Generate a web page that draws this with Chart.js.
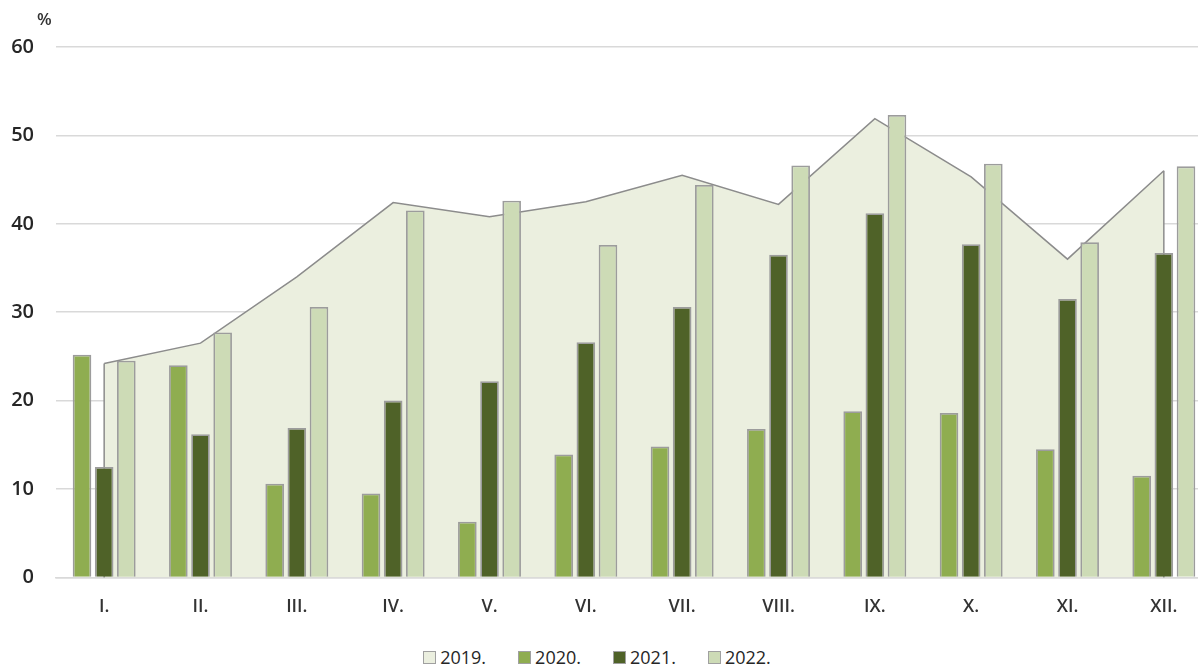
<!DOCTYPE html>
<html lang="hu">
<head>
    <meta charset="UTF-8">
    <title>Havi arány 2019-2022</title>
    <style>
        body { margin: 0; overflow: hidden; background: #fff; font-family: "Open Sans", sans-serif; }
        .wrap { position: relative; width: 1212px; height: 640px; }
        .unit { position: absolute; left: 37px; top: 7px; font-size: 17px; font-weight: 600; color: #333; }
        .legend { position: absolute; top: 645px; left: 0; width: 1194px; display: flex; justify-content: center; gap: 32px; font-size: 18px; color: #262626; }
        .legend span.item { display: flex; align-items: center; }
        .legend span.box { width: 13px; height: 13px; border: 1.5px solid #a0a0a0; margin-right: 4px; box-sizing: border-box; }
    </style>
</head>
<body>
    <div class="wrap">
        <canvas id="chart"></canvas>
        <div class="unit">%</div>
    </div>
    <div class="legend" id="legend"></div>

    <script src="https://cdn.jsdelivr.net/npm/chart.js"></script>
    <script>
        // adatok
        var months = ['I.', 'II.', 'III.', 'IV.', 'V.', 'VI.', 'VII.', 'VIII.', 'IX.', 'X.', 'XI.', 'XII.'];
        var years = ['2019.', '2020.', '2021.', '2022.'];
        var colors = ['#ebefdf', '#8fad50', '#4f6228', '#cddbb6'];
        var yTicks = [0, 10, 20, 30, 40, 50, 60];

        var v2019 = [24.2, 26.5, 34.0, 42.4, 40.8, 42.5, 45.5, 42.2, 51.9, 45.3, 36.0, 46.0];
        var v2020 = [25.2, 24.0, 10.6, 9.5, 6.3, 13.9, 14.8, 16.8, 18.8, 18.6, 14.5, 11.5];
        var v2021 = [12.5, 16.2, 16.9, 20.0, 22.2, 26.6, 30.6, 36.5, 41.2, 37.7, 31.5, 36.7];
        var v2022 = [24.5, 27.7, 30.6, 41.5, 42.6, 37.6, 44.4, 46.6, 52.3, 46.8, 37.9, 46.5];

        // az area széleit le kell zárni függőlegesen
        var areaEdges = {
            id: 'areaEdges',
            afterDatasetDraw: function(chart, args) {
                if (args.index !== 0) return;
                var pts = args.meta.data;
                var base = chart.scales.y.getPixelForValue(0);
                var ctx = chart.ctx;
                ctx.save();
                ctx.strokeStyle = '#8c8c8c';
                ctx.lineWidth = 1.5;
                ctx.beginPath();
                ctx.moveTo(pts[0].x, pts[0].y);
                ctx.lineTo(pts[0].x, base);
                ctx.moveTo(pts[pts.length - 1].x, pts[pts.length - 1].y);
                ctx.lineTo(pts[pts.length - 1].x, base);
                ctx.stroke();
                ctx.restore();
            }
        };

        function barSet(i, data) {
            return {
                label: years[i],
                data: data,
                backgroundColor: colors[i],
                borderColor: '#9c9c9c',
                borderWidth: 1.8,
                categoryPercentage: 0.69,
                barPercentage: 0.84,
                order: 1
            };
        }

        var ctx = document.getElementById('chart').getContext('2d');
        var chart = new Chart(ctx, {
            type: 'bar',
            data: {
                labels: months,
                datasets: [
                    {
                        type: 'line',
                        label: years[0],
                        data: v2019,
                        backgroundColor: colors[0],
                        borderColor: '#8c8c8c',
                        borderWidth: 1.5,
                        fill: 'origin',
                        tension: 0,
                        pointRadius: 0,
                        order: 2
                    },
                    barSet(1, v2020),
                    barSet(2, v2021),
                    barSet(3, v2022)
                ]
            },
            options: {
                responsive: true,
                maintainAspectRatio: false,
                animation: false,
                layout: { padding: { top: 47, left: 8, right: 0, bottom: 11 } },
                plugins: {
                    legend: { display: false },
                    tooltip: { enabled: false }
                },
                scales: {
                    x: {
                        offset: true,
                        grid: { display: false },
                        border: { color: '#d9d9d9', width: 1.5 },
                        ticks: { color: '#333', font: { family: 'Open Sans', size: 18, weight: '600' }, padding: 11 }
                    },
                    y: {
                        min: 0,
                        max: 60,
                        afterBuildTicks: function(axis) {
                            axis.ticks = yTicks.map(function(v) { return { value: v }; });
                        },
                        afterFit: function(axis) { axis.width = 48; },
                        grid: { color: '#d9d9d9', lineWidth: 1.5, drawTicks: false },
                        border: { display: false },
                        ticks: { color: '#262626', font: { family: 'Open Sans', size: 20, weight: '600' }, padding: 22 }
                    }
                }
            },
            plugins: [areaEdges]
        });

        // legend
        var legend = document.getElementById('legend');
        years.forEach(function(y, i) {
            var item = document.createElement('span');
            item.className = 'item';
            var box = document.createElement('span');
            box.className = 'box';
            box.style.background = colors[i];
            item.appendChild(box);
            item.appendChild(document.createTextNode(y));
            legend.appendChild(item);
        });
    </script>
</body>
</html>
